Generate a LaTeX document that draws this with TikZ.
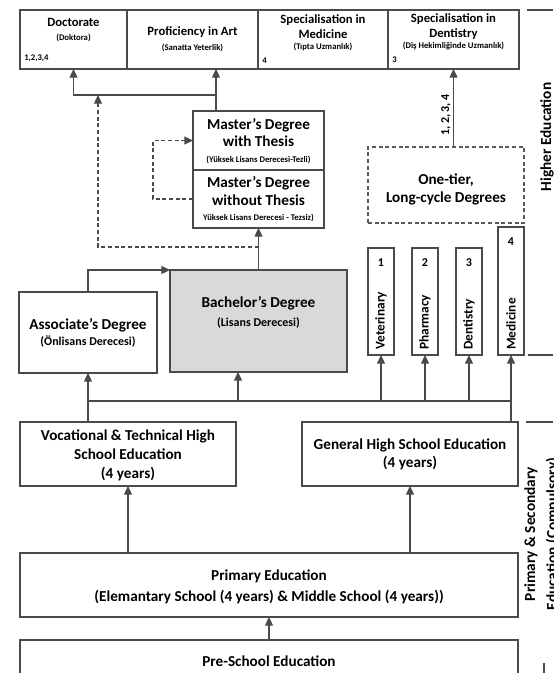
\documentclass[tikz,border=0pt]{standalone}
\usepackage{fontspec}
\setmainfont{Carlito}
\usetikzlibrary{arrows.meta,fit,calc}
\definecolor{linec}{HTML}{4A4A4A}
\definecolor{bachfill}{HTML}{D9D9D9}
\begin{document}
\begin{tikzpicture}[x=0.75pt,y=-0.75pt,
  box/.style={draw=linec, line width=0.9pt, inner sep=0pt, outer sep=0pt},
  dbox/.style={box, dash pattern=on 3pt off 2pt, draw=black!65},
  conn/.style={draw=linec, line width=0.9pt},
  tip/.style={-{Triangle[length=6.5pt,width=6pt]}},
  arr/.style={conn, tip},
  dconn/.style={conn, dash pattern=on 3pt off 2pt},
  toptxt/.style={font=\fontsize{9.5}{11.3}\selectfont\bfseries, align=center, inner sep=0pt},
  tinytxt/.style={font=\fontsize{6.5}{8}\selectfont\bfseries, inner sep=0pt},
  mtxt/.style={font=\fontsize{11.4}{12.8}\selectfont\bfseries, align=center, inner sep=0pt},
  btxt/.style={font=\fontsize{11.4}{14.2}\selectfont\bfseries, align=center, inner sep=0pt},
  subtxt/.style={font=\fontsize{9}{11}\selectfont\bfseries, inner sep=0pt},
  vtxt/.style={font=\fontsize{10}{12}\selectfont\bfseries, rotate=90, anchor=west, inner sep=0pt},
  numtxt/.style={font=\fontsize{9}{10}\selectfont\bfseries, inner sep=0pt},
  sidetxt/.style={font=\fontsize{11.5}{16.5}\selectfont\bfseries, rotate=90, align=center, inner sep=0pt},
  sideline/.style={draw=linec, line width=0.9pt}
]
\useasboundingbox (0,0) rectangle (553,673);
\clip (0,0) rectangle (553,673);

% ---- top row
\node[box, fit={(20,10) (127,69)}] (doc) {};
\node[box, fit={(127,10) (258,69)}] (prof) {};
\node[box, fit={(258,10) (388,69)}] (specmed) {};
\node[box, fit={(388,10) (519,69)}] (specdent) {};

\node[toptxt] (doct) at (73.5,22) {Doctorate};
\node[tinytxt] (docs) at (73.5,38) {(Doktora)};
\node[tinytxt, anchor=west] (docn) at (24,58) {1,2,3,4};

\node[toptxt] (proft) at (192.5,32) {Proficiency in Art};
\node[tinytxt] (profs) at (192.5,48) {(Sanatta Yeterlik)};

\node[toptxt] (specmedt) at (323,26.5) {Specialisation in\\Medicine};
\node[tinytxt] (specmeds) at (323,47) {(Tıpta Uzmanlık)};
\node[tinytxt, anchor=west] (specmedn) at (262,61) {4};

\node[toptxt] (specdentt) at (453.5,26.5) {Specialisation in\\Dentistry};
\node[tinytxt] (specdents) at (453.5,46) {(Diş Hekimliğinde Uzmanlık)};
\node[tinytxt, anchor=west] (specdentn) at (392,60) {3};

% ---- master's
\node[box, fit={(193,111) (324,170)}] (mwt) {};
\node[box, fit={(193,170) (324,228)}] (mwo) {};
\node[mtxt] (mwtt) at (258.5,132.5) {Master’s Degree\\with Thesis};
\node[tinytxt] (mwts) at (258.5,160) {(Yüksek Lisans Derecesi-Tezli)};
\node[mtxt] (mwot) at (258.5,191) {Master’s Degree\\without Thesis};
\node[tinytxt] (mwos) at (258.5,218) {Yüksek Lisans Derecesi - Tezsiz)};

% ---- bachelor / associate
\node[box, fill=bachfill, fit={(170,270) (347,372)}] (bach) {};
\node[btxt] (bacht) at (258.5,303) {Bachelor’s Degree};
\node[subtxt] (bachs) at (258.5,323) {(Lisans Derecesi)};

\node[box, fit={(19,292) (157,373)}] (assoc) {};
\node[btxt] (assoct) at (88,325) {Associate’s Degree};
\node[subtxt] (assocs) at (88,342) {(Önlisans Derecesi)};

% ---- one-tier
\node[dbox, fit={(368,147) (524,223)}] (onetier) {};
\node[font=\fontsize{11.4}{13.5}\selectfont\bfseries, align=center, inner sep=0pt] (onetiert) at (446,189) {One-tier,\\Long-cycle Degrees};

\node[box, fit={(368,248) (394,355)}] (vet) {};
\node[box, fit={(412,248) (438,355)}] (pharm) {};
\node[box, fit={(456,248) (482,355)}] (dent) {};
\node[box, fit={(498,227) (524,355)}] (med) {};
\node[numtxt] (n1) at (381,263) {1};
\node[numtxt] (n2) at (425,263) {2};
\node[numtxt] (n3) at (469,263) {3};
\node[numtxt] (n4) at (511,242) {4};
\node[vtxt] (vett) at (381,350) {Veterinary};
\node[vtxt] (pharmt) at (425,350) {Pharmacy};
\node[vtxt] (dentt) at (469,350) {Dentistry};
\node[vtxt] (medt) at (511,350) {Medicine};

% ---- high schools
\node[box, fit={(20,422) (236,486)}] (voc) {};
\node[btxt] (voct) at (128,455) {Vocational \& Technical High\\School Education\\(4 years)};
\node[box, fit={(302,422) (518,486)}] (gen) {};
\node[font=\fontsize{11.4}{13.5}\selectfont\bfseries, align=center, inner sep=0pt] (gent) at (410,454) {General High School Education\\(4 years)};

\node[box, fit={(20,553) (518,617)}] (prim) {};
\node[font=\fontsize{11.4}{15.7}\selectfont\bfseries, align=center, inner sep=0pt] (primt) at (269,587) {Primary Education\\(Elemantary School (4 years) \& Middle School (4 years))};
\node[box, fit={(20,640) (518,700)}] (pre) {};
\node[btxt] (pret) at (269,661) {Pre-School Education};

% ---- side labels
\node[sidetxt] (hiedu) at (547,137) {Higher Education};
\node[sidetxt, anchor=north] (psedu) at (524,534) {Primary \& Secondary\\Education (Compulsory)};
\coordinate (hl1) at (527,10);
\coordinate (hl2) at (528,355);
\coordinate (pl1) at (526,422);
\coordinate (pl2) at (544,663);
\coordinate (edge) at (553,0);
\draw[sideline] (hl1) -- (hl1 -| edge);
\draw[sideline] (hl2) -- (hl2 -| edge);
\draw[sideline] (pl1) -- (pl1 -| edge);
\draw[sideline] (pl2) -- ++(0,12);

% ---- connectors
\draw[arr] (pre.north -| prim.south) -- (prim.south);
\draw[arr] (prim.north -| voc.south) -- (voc.south);
\draw[arr] (prim.north -| gen.south) -- (gen.south);

\coordinate (busy) at (0,401);
\coordinate (bachin) at (238,372);
\draw[conn] (assoc.south |- busy) -- (med.south |- busy);
\draw[arr] (voc.north -| assoc.south) -- (assoc.south);
\draw[arr] (gen.north -| med.south) -- (med.south);
\draw[arr] (bachin |- busy) -- (bachin);
\draw[arr] (vet.south |- busy) -- (vet.south);
\draw[arr] (pharm.south |- busy) -- (pharm.south);
\draw[arr] (dent.south |- busy) -- (dent.south);

\draw[arr] (assoc.north) |- (bach.north west);
\draw[arr] (bach.north) -- (mwo.south);

\coordinate (mtop) at (216,111);
\coordinate (mj) at (216,95);
\draw[arr] (mtop) -- (mtop |- prof.south);
\draw[arr] (mj) -| (doc.south);

\coordinate (dj) at (258.5,247);
\coordinate (dtip) at (98,95);
\draw[dconn, tip] (dj) -| (dtip);
\draw[dconn, tip] (mwo.west) -- ++(-40,0) |- (mwt.west);

\draw[arr] (specdent.south |- onetier.north) -- (specdent.south);
\node[font=\fontsize{9}{10}\selectfont\bfseries, rotate=90, inner sep=0pt] (lbl) at (446,115) {1, 2, 3, 4};
\end{tikzpicture}
\end{document}
